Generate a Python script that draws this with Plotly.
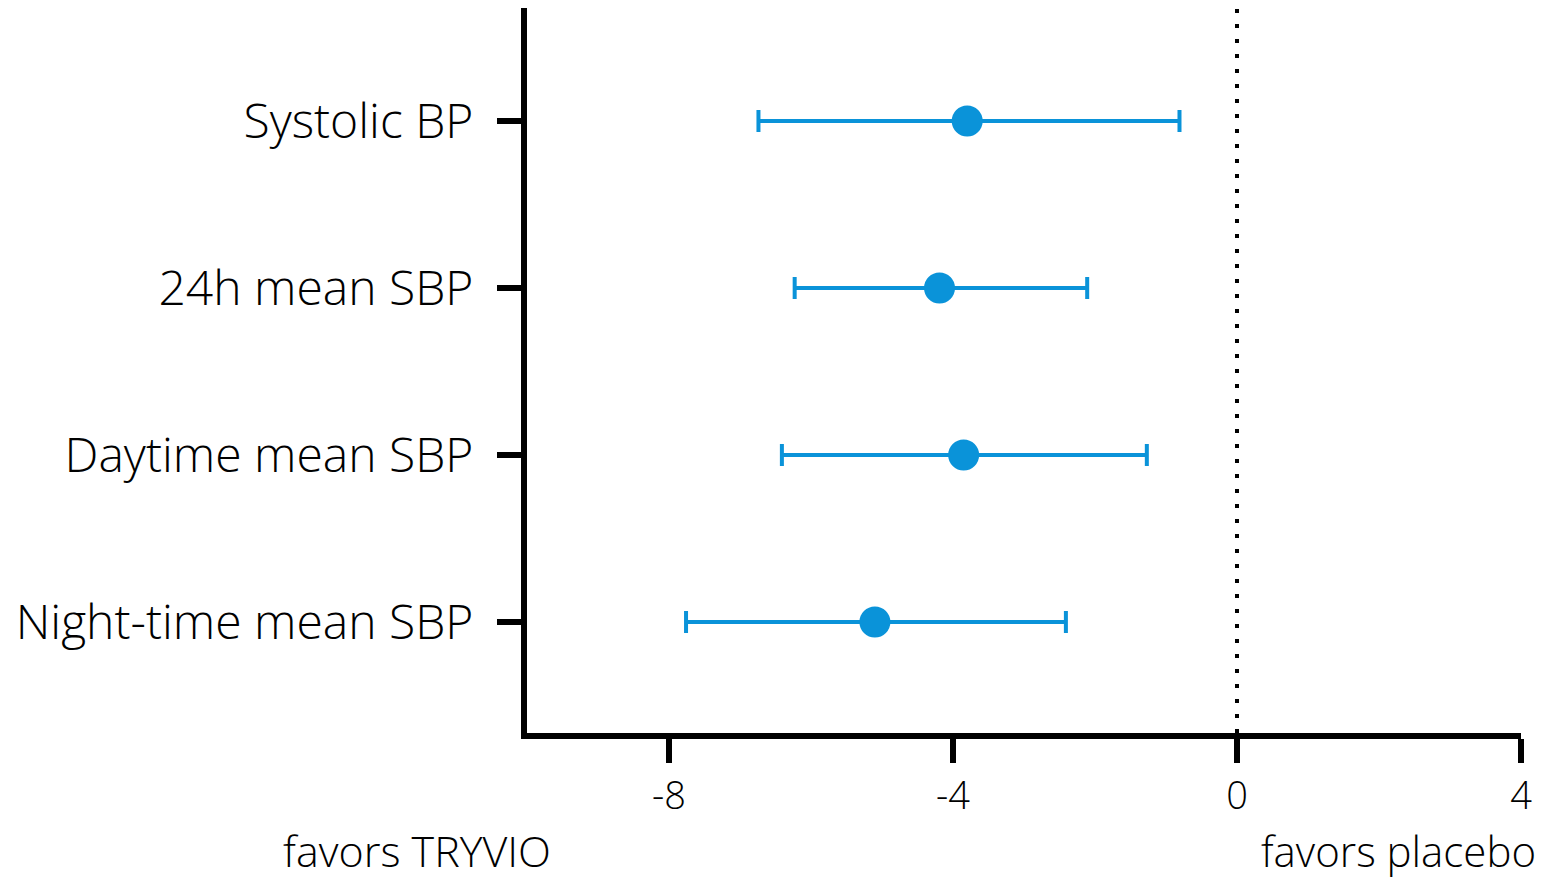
import plotly.graph_objects as go

categories = ["Systolic BP", "24h mean SBP", "Daytime mean SBP", "Night-time mean SBP"]
estimates = [-3.80, -4.19, -3.85, -5.10]
ci_low = [-6.74, -6.23, -6.41, -7.76]
ci_high = [-0.81, -2.11, -1.27, -2.41]
x_ticks = [-8, -4, 0, 4]
x_tick_labels = ["-8", "-4", "0", "4"]

color = "#0A93D9"
font_family = "Open Sans"

err_plus = [h - e for h, e in zip(ci_high, estimates)]
err_minus = [e - l for e, l in zip(estimates, ci_low)]

fig = go.Figure()
fig.add_trace(go.Scatter(
    x=estimates, y=categories, mode="markers",
    marker=dict(size=31, color=color),
    error_x=dict(type="data", symmetric=False, array=err_plus, arrayminus=err_minus,
                 color=color, thickness=4, width=11),
    showlegend=False,
))

fig.add_shape(type="line", x0=0, x1=0, y0=0, y1=1, yref="paper", xref="x",
              line=dict(color="black", width=4, dash="4px,11px"), layer="below")

fig.add_annotation(text="favors TRYVIO", x=-0.1107, y=-0.162, xref="paper", yref="paper",
                   showarrow=False, font=dict(size=43, color="black", family=font_family, weight=300),
                   xanchor="center", yanchor="middle")
fig.add_annotation(text="favors placebo", x=0.877, y=-0.162, xref="paper", yref="paper",
                   showarrow=False, font=dict(size=42, color="black", family=font_family, weight=300),
                   xanchor="center", yanchor="middle")

fig.update_layout(
    width=1541, height=873, autosize=False,
    margin=dict(l=519, r=28, t=0, b=148),
    plot_bgcolor="white", paper_bgcolor="white",
    font=dict(family=font_family, color="black"),
)
fig.update_xaxes(
    range=[-10, 4], tickvals=x_ticks, ticktext=x_tick_labels, showgrid=False, zeroline=False,
    showline=True, linecolor="black", linewidth=6, automargin=False,
    ticks="outside", ticklen=24, tickwidth=6, tickcolor="black",
    tickfont=dict(size=38, family=font_family, weight=300), ticklabelstandoff=0,
)
fig.update_yaxes(
    categoryorder="array", categoryarray=categories,
    range=[3.665, -0.677], showgrid=False, zeroline=False,
    showline=True, linecolor="black", linewidth=6, automargin=False,
    ticks="outside", ticklen=24, tickwidth=6, tickcolor="black",
    tickfont=dict(size=48, family=font_family, weight=300), ticklabelstandoff=14,
)

fig.write_html("out.html")
